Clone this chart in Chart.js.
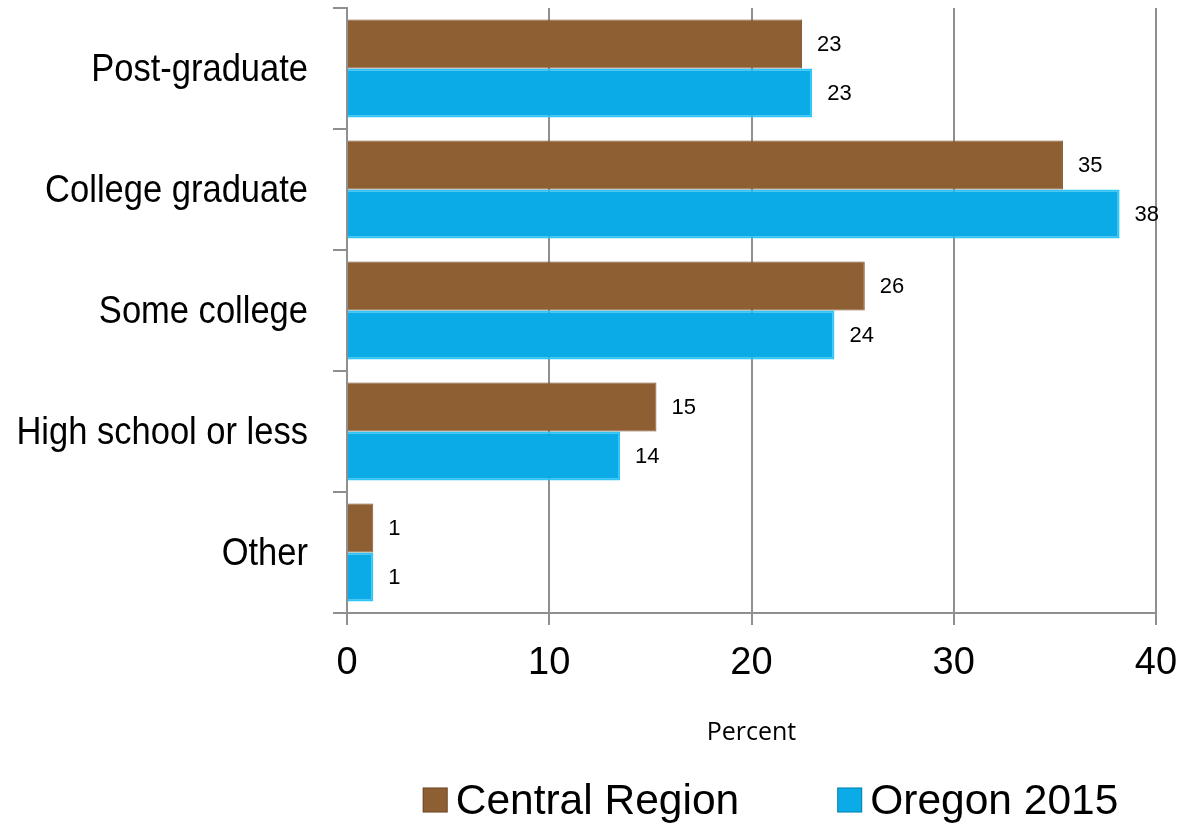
<!DOCTYPE html>
<html>
<head>
<meta charset="utf-8">
<script src="https://cdn.jsdelivr.net/npm/chart.js@4"></script>
<style>
html,body{margin:0;padding:0;background:#fff;}
#wrap{width:1183px;height:823px;position:relative;}
</style>
</head>
<body>
<div id="wrap"><canvas id="c" width="1183" height="823"></canvas></div>
<script>
const categories = ["Post-graduate", "College graduate", "Some college", "High school or less", "Other"];
const centralRegion = [22.5, 35.4, 25.6, 15.3, 1.3];
const oregon2015 = [23.0, 38.2, 24.1, 13.5, 1.3];
const seriesNames = ["Central Region", "Oregon 2015"];
const xTicks = [0, 10, 20, 30, 40];
const axisTitle = "Percent";

const BROWN = "#8D5F33";
const BLUE = "#0AABE6";

const valueLabels = {
  id: "valueLabels",
  afterDatasetsDraw(chart) {
    const ctx = chart.ctx;
    ctx.save();
    ctx.font = "22px 'Liberation Sans', Arial, sans-serif";
    ctx.fillStyle = "#000";
    ctx.textAlign = "left";
    ctx.textBaseline = "middle";
    chart.data.datasets.forEach((ds, i) => {
      const meta = chart.getDatasetMeta(i);
      meta.data.forEach((bar, j) => {
        ctx.fillText(String(Math.round(ds.data[j])), bar.x + 15, bar.y + 1);
      });
    });
    ctx.restore();
  }
};

// Category labels drawn slightly condensed (as in the reference), positioned by the y scale
const yLabels = {
  id: "yLabels",
  afterDraw(chart) {
    const ctx = chart.ctx;
    const ys = chart.scales.y;
    const squeeze = 0.885;
    ctx.save();
    ctx.font = "39px 'Liberation Sans', Arial, sans-serif";
    ctx.fillStyle = "#000";
    ctx.textAlign = "right";
    ctx.textBaseline = "middle";
    const rightX = 308;
    chart.data.labels.forEach((lab, i) => {
      const y = ys.getPixelForTick(i);
      ctx.save();
      ctx.translate(rightX, y + 2);
      ctx.scale(squeeze, 1);
      ctx.fillText(lab, 0, 0);
      ctx.restore();
    });
    ctx.restore();
  }
};

const customLegend = {
  id: "customLegend",
  afterDraw(chart) {
    const ctx = chart.ctx;
    const ca = chart.chartArea;
    ctx.save();
    ctx.font = "42.5px 'Liberation Sans', Arial, sans-serif";
    ctx.textBaseline = "middle";
    const box = 25, gap = 8, between = 98;
    const items = chart.data.datasets.map(d => ({label: d.label, color: d.backgroundColor, w: ctx.measureText(d.label).width}));
    let total = 0;
    items.forEach((it, i) => { total += box + gap + it.w + (i < items.length - 1 ? between : 0); });
    let x = (ca.left + ca.right) / 2 + 19 - total / 2;
    const y = chart.height - 23;
    items.forEach(it => {
      ctx.fillStyle = it.color;
      ctx.fillRect(x, y - box / 2, box, box);
      ctx.strokeStyle = "rgba(0,0,0,0.25)";
      ctx.lineWidth = 1;
      ctx.strokeRect(x + 0.5, y - box / 2 + 0.5, box - 1, box - 1);
      ctx.fillStyle = "#000";
      ctx.fillText(it.label, x + box + gap, y + 2);
      x += box + gap + it.w + between;
    });
    ctx.restore();
  }
};

new Chart(document.getElementById("c"), {
  type: "bar",
  data: {
    labels: categories,
    datasets: [
      { label: seriesNames[0], data: centralRegion, backgroundColor: BROWN, borderColor: "#815530", borderWidth: 1 },
      { label: seriesNames[1], data: oregon2015, backgroundColor: BLUE, borderColor: "#2CC6FA", borderWidth: 2 }
    ]
  },
  options: {
    indexAxis: "y",
    responsive: false,
    animation: false,
    devicePixelRatio: 1,
    layout: { padding: { left: 0, top: 8, right: 27, bottom: 70 } },
    datasets: { bar: { barPercentage: 1.0, categoryPercentage: 0.81 } },
    plugins: { legend: { display: false }, tooltip: { enabled: false } },
    scales: {
      x: {
        min: 0, max: 40,
        afterBuildTicks(scale) { scale.ticks = xTicks.map(v => ({ value: v })); },
        afterFit(scale) { scale.height = 140; scale.paddingLeft = 0; scale.paddingRight = 0; },
        grid: { color: "#8f8f8f", lineWidth: 2, tickLength: 12, drawTicks: true },
        border: { display: true, color: "#8f8f8f", width: 2 },
        ticks: { color: "#000", font: { family: "'Liberation Sans', Arial, sans-serif", size: 38 }, padding: 16 },
        title: { display: true, text: axisTitle, color: "#000", font: { family: "'Open Sans', sans-serif", size: 25 }, padding: { top: 0, bottom: 5 } }
      },
      y: {
        afterFit(scale) { scale.width = 347; scale.paddingTop = 0; scale.paddingBottom = 0; },
        grid: { drawOnChartArea: false, color: "#8f8f8f", lineWidth: 2, tickLength: 14, offset: true },
        border: { display: true, color: "#8f8f8f", width: 2 },
        ticks: { display: false }
      }
    }
  },
  plugins: [valueLabels, yLabels, customLegend]
});
</script>
</body>
</html>
